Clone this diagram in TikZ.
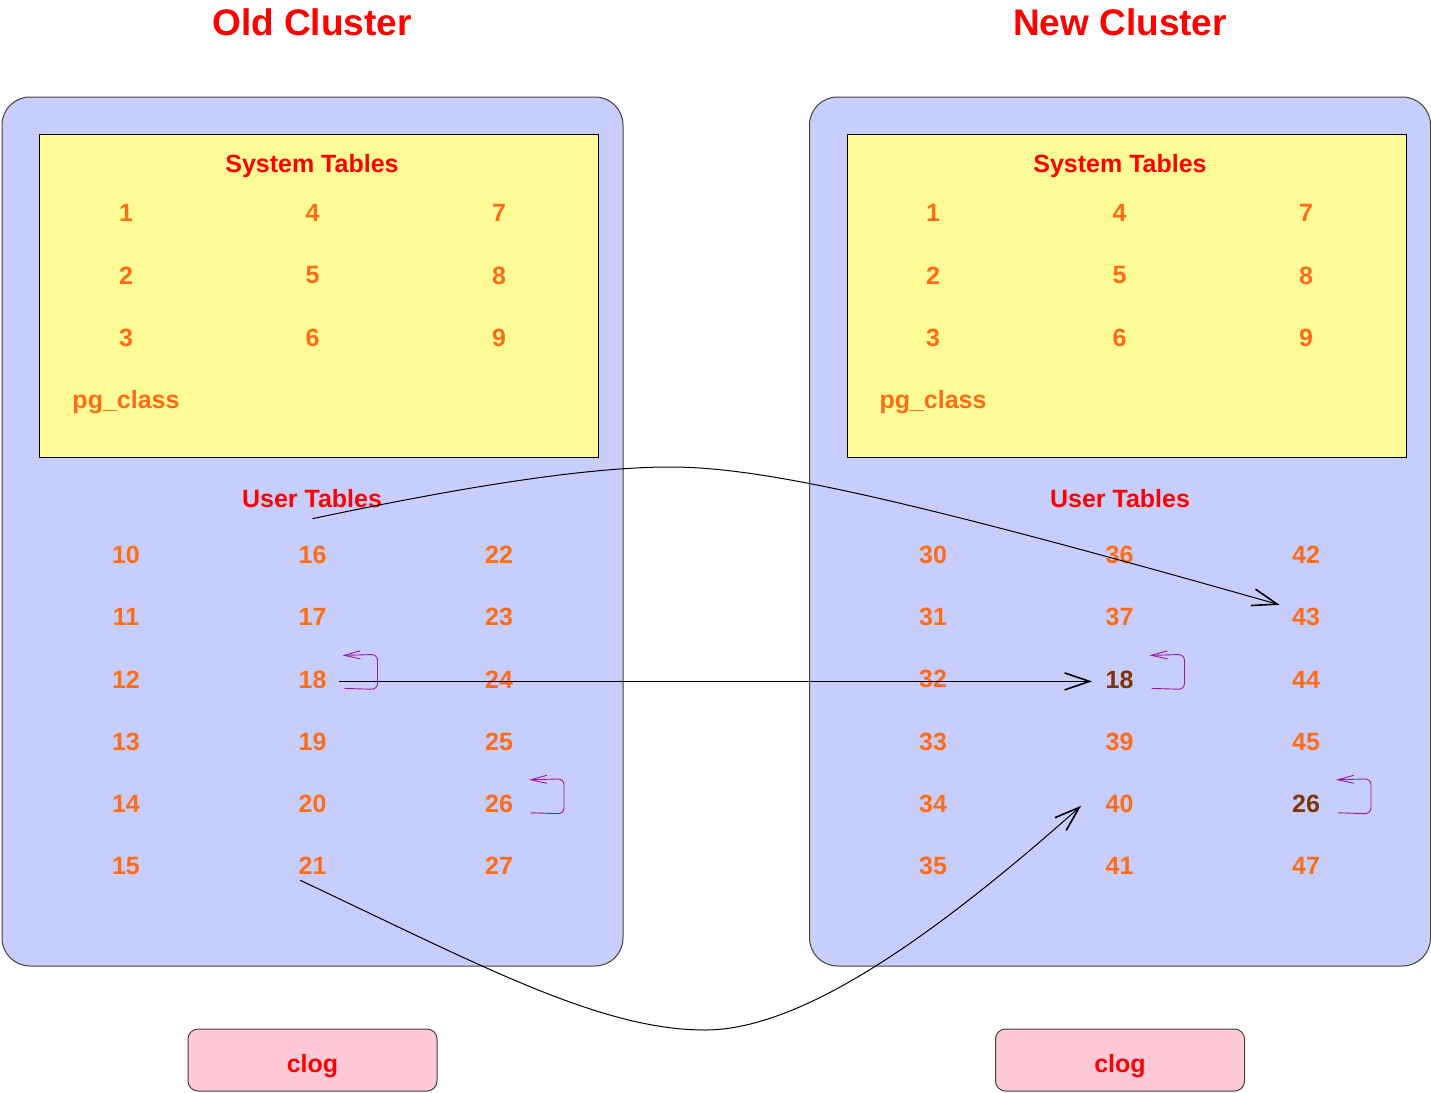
\documentclass[tikz,border=0pt]{standalone}
\usepackage{fontspec}
\setsansfont{Liberation Sans}
\usetikzlibrary{arrows.meta}
\definecolor{clusterblue}{RGB}{200,206,251}
\definecolor{sysyellow}{RGB}{255,251,150}
\definecolor{clogpink}{RGB}{255,200,214}
\definecolor{relorange}{RGB}{255,108,24}
\definecolor{movedbrown}{RGB}{125,52,8}
\definecolor{turnpurple}{RGB}{160,20,160}
\tikzset{big font/.style={font=\sffamily\bfseries\fontsize{37}{43}\selectfont}}
\tikzset{table font/.style={font=\sffamily\bfseries\fontsize{25}{30}\selectfont}}
\tikzset{cluster box/.style={draw=black!75,fill=clusterblue,rounded corners=28pt,minimum width=621pt,minimum height=869pt,inner sep=0pt}}
\tikzset{system box/.style={draw,fill=sysyellow,minimum width=559pt,minimum height=323pt,inner sep=0pt}}
\tikzset{clog box/.style={draw=black!75,fill=clogpink,rounded corners=10pt,minimum width=249pt,minimum height=62pt,inner sep=0pt,text height=24pt,text depth=0pt,text=red,table font}}
\tikzset{cluster title/.style={anchor=base,text=red,big font}}
\tikzset{table title/.style={anchor=base,text=red,table font}}
\tikzset{rel/.style={text=relorange,table font,inner sep=8pt}}
\tikzset{moved/.style={text=movedbrown}}
\tikzset{turn arrow/.style={draw=turnpurple,line width=0.9pt,rounded corners=6pt,-{Straight Barb[length=16pt,width=8pt]}}}

\begin{document}
\begin{tikzpicture}[x=1pt,y=-1pt,>={Straight Barb[length=25pt,width=17pt,line width=1.6pt]},line width=1pt]
                    \tikzstyle{N18} = [moved]
                    \tikzstyle{N26} = [moved]
                    \useasboundingbox (0,0) rectangle (1431,1092);

                    \node[cluster box](OC) at (312.5,531.5){};
                    \node[cluster box](NC) at (1120,531.5){};
                    \node[system box](OS) at (318.5,295.5){};
                    \node[system box](NS) at (1126.5,295.5){};
                    \node[clog box](OL) at (312.5,1060){clog};
                    \node[clog box](NL) at (1120,1060){clog};

                    \node[cluster title](OT) at (312,35){Old Cluster};
                    \node[cluster title](NT) at (1120,35){New Cluster};
                    \node[table title](OST) at (312,172){System Tables};
                    \node[table title](NST) at (1120,172){System Tables};
                    \node[table title](OUT) at (312,507){User Tables};
                    \node[table title](NUT) at (1120,507){User Tables};

                    \foreach \pre/\dx in {O/0,N/807}{
                        \foreach \c in {0,1,2}
                            \foreach \r in {0,1,2}{
                                \pgfmathtruncatemacro\n{3*\c+\r+1}
                                \node[rel](\pre S\n) at ({126+186.5*\c+\dx},{213+62.5*\r}){\n};
                            }
                        \node[rel,anchor=base](\pre P) at ({126+\dx},408){pg\_class};
                    }

                    \foreach \x/\col in {126/{10,...,15},312.5/{16,...,21},499/{22,...,27}}
                        \foreach \n [count=\r from 0] in \col
                            \node[rel](O\n) at (\x,{555+62.2*\r}){\n};
                    \foreach \x/\col in {933/{30,...,35},1119.5/{36,37,18,39,40,41},1306/{42,43,44,45,26,47}}
                        \foreach \n [count=\r from 0] in \col
                            \node[rel,N\n/.try](N\n) at (\x,{555+62.2*\r}){\n};

                    \foreach \n in {O18,O26,N18,N26}
                        \draw[turn arrow] ([shift={(32,9)}]\n.center) -- ([shift={(65,10)}]\n.center) -- ([shift={(65,-25)}]\n.center) -- ([shift={(30,-24)}]\n.center);

                    \draw[->] ([yshift=19pt]O16.north) .. controls (420,496) and (570,467) .. (670,467) .. controls (760,467) and (900,497) .. ([shift={(-4,5)}]N43.north west);
                    \draw[->] ([shift={(4,2)}]O18.east) -- ([shift={(-5,2)}]N18.west);
                    \draw[->] ([shift={(10,-3)}]O21.south west) .. controls (480,965) and (600,1030) .. (705,1030) .. controls (800,1030) and (930,940) .. ([shift={(-16,2)}]N40.west);
                    %\draw[->] (O21) to[bend right=60] (N40);

                \end{tikzpicture}
\end{document}
